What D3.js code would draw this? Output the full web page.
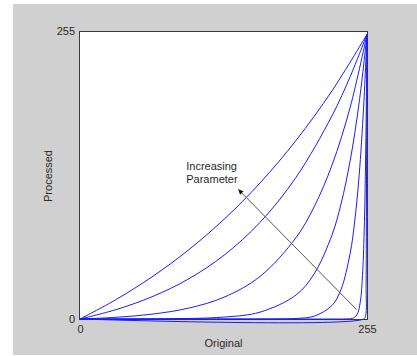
<!DOCTYPE html>
<html>
<head>
<meta charset="utf-8">
<script src="https://cdn.jsdelivr.net/npm/d3@7"></script>
<style>
  body { margin: 0; background: #ffffff; }
</style>
</head>
<body>
<svg id="chart" width="417" height="356"></svg>
<script>
// Tick labels on both axes
const xTicks = [0, 255];
const yTicks = [0, 255];

// Transfer curves, [original, processed] (low -> high parameter)
const curve1 = [[0, 0], [32, 17.2], [64, 37.3], [96, 60.8], [128, 88.3], [160, 120.5], [192, 158.2], [224, 202.2], [255, 252]];
const curve2 = [[0, 0], [32, 8.3], [64, 19.7], [96, 35.2], [128, 56.5], [160, 85.6], [192, 125.5], [224, 180.1], [240, 214.5], [255, 252]];
const curve3 = [[0, 0], [32, 1.5], [64, 4.3], [96, 9.5], [128, 19.3], [160, 37.7], [192, 72.1], [208, 99.2], [224, 136.5], [240, 187.3], [255, 252]];
const curve4 = [[0, 0], [64, 0.1], [128, 1.7], [160, 6.1], [192, 21.3], [208, 39.9], [224, 74.7], [232, 102.2], [240, 140.0], [248, 191.4], [255, 252]];
const curve5 = [[0, 0], [128, 0], [176, 0.1], [192, 0.5], [208, 2.5], [224, 12.1], [232, 26.4], [240, 57.9], [244, 85.8], [248, 126.9], [252, 187.8], [255, 252]];
const curve6 = [[0, 0], [220, 0], [236, 0.1], [242, 0.6], [246, 3.6], [249, 15.0], [251, 38.5], [252.5, 77.7], [254, 157.5], [255, 252]];
const curve7 = [[0, 0], [252, 0], [253.8, 3], [254.2, 30], [254.5, 100], [254.8, 180], [255, 252]];
const curves = [curve1, curve2, curve3, curve4, curve5, curve6, curve7];

// Annotation: arrow from tail to head (data units) and its label
const arrowTail = [245.7, 8.4];
const arrowHead = [140.6, 114.8];
const noteLines = ['Increasing', 'Parameter'];
const noteAt = [94.4, 132];

const svg = d3.select('#chart');
const font = 'Arial, "Liberation Sans", sans-serif';

const x = d3.scaleLinear().domain([0, 255]).range([80, 367]);
const y = d3.scaleLinear().domain([0, 255]).range([319, 31]);

// Grey panel
svg.append('rect')
  .attr('x', 13).attr('y', 4)
  .attr('width', 404).attr('height', 351)
  .attr('fill', '#d0d0d0');

// Plot area
svg.append('rect')
  .attr('x', x(0)).attr('y', y(255))
  .attr('width', x(255) - x(0)).attr('height', y(0) - y(255))
  .attr('fill', '#ffffff');

svg.append('rect')
  .attr('x', x(0) - 0.5).attr('y', y(255) + 0.5)
  .attr('width', x(255) - x(0) + 1).attr('height', y(0) - y(255))
  .attr('fill', 'none')
  .attr('stroke', '#3a3a3a')
  .attr('stroke-width', 1);

// Curves
const line = d3.line()
  .x(d => x(d[0]))
  .y(d => y(d[1]))
  .curve(d3.curveCatmullRom.alpha(0.5));

svg.append('g')
  .selectAll('path')
  .data(curves)
  .join('path')
  .attr('d', line)
  .attr('fill', 'none')
  .attr('stroke', '#1a1aff')
  .attr('stroke-width', 1);

// Axes (labels only)
const xAxis = svg.append('g')
  .attr('transform', `translate(0,${y(0)})`)
  .call(d3.axisBottom(x).tickValues(xTicks).tickSize(0).tickPadding(6).tickFormat(d3.format('d')));
const yAxis = svg.append('g')
  .attr('transform', `translate(${x(0)},0)`)
  .call(d3.axisLeft(y).tickValues(yTicks).tickSize(0).tickPadding(5).tickFormat(d3.format('d')));
[xAxis, yAxis].forEach(g => {
  g.select('.domain').remove();
  g.selectAll('text')
    .attr('font-family', font)
    .attr('font-size', '11px')
    .attr('fill', '#2a2a2a');
});

// Axis titles
svg.append('text')
  .text('Original')
  .attr('x', (x(0) + x(255)) / 2)
  .attr('y', 347)
  .attr('text-anchor', 'middle')
  .attr('font-family', font).attr('font-size', '11px')
  .attr('fill', '#2a2a2a');

svg.append('text')
  .text('Processed')
  .attr('transform', `translate(51.5,${(y(0) + y(255)) / 2 + 1}) rotate(-90)`)
  .attr('text-anchor', 'middle')
  .attr('font-family', font).attr('font-size', '11px')
  .attr('fill', '#2a2a2a');

// Arrow annotation
svg.append('defs').append('marker')
  .attr('id', 'arrowhead')
  .attr('viewBox', '0 0 10 10')
  .attr('refX', 10).attr('refY', 5)
  .attr('markerWidth', 7).attr('markerHeight', 5)
  .attr('markerUnits', 'userSpaceOnUse')
  .attr('orient', 'auto')
  .append('path')
  .attr('d', 'M0,0L10,5L0,10z')
  .attr('fill', '#111111');

svg.append('line')
  .attr('x1', x(arrowTail[0])).attr('y1', y(arrowTail[1]))
  .attr('x2', x(arrowHead[0])).attr('y2', y(arrowHead[1]))
  .attr('stroke', '#555555')
  .attr('stroke-width', 1)
  .attr('marker-end', 'url(#arrowhead)');

svg.append('g')
  .selectAll('text')
  .data(noteLines)
  .join('text')
  .text(d => d)
  .attr('x', x(noteAt[0]))
  .attr('y', (d, i) => y(noteAt[1]) + i * 13)
  .attr('font-family', font).attr('font-size', '11px')
  .attr('fill', '#2a2a2a');
</script>
</body>
</html>
